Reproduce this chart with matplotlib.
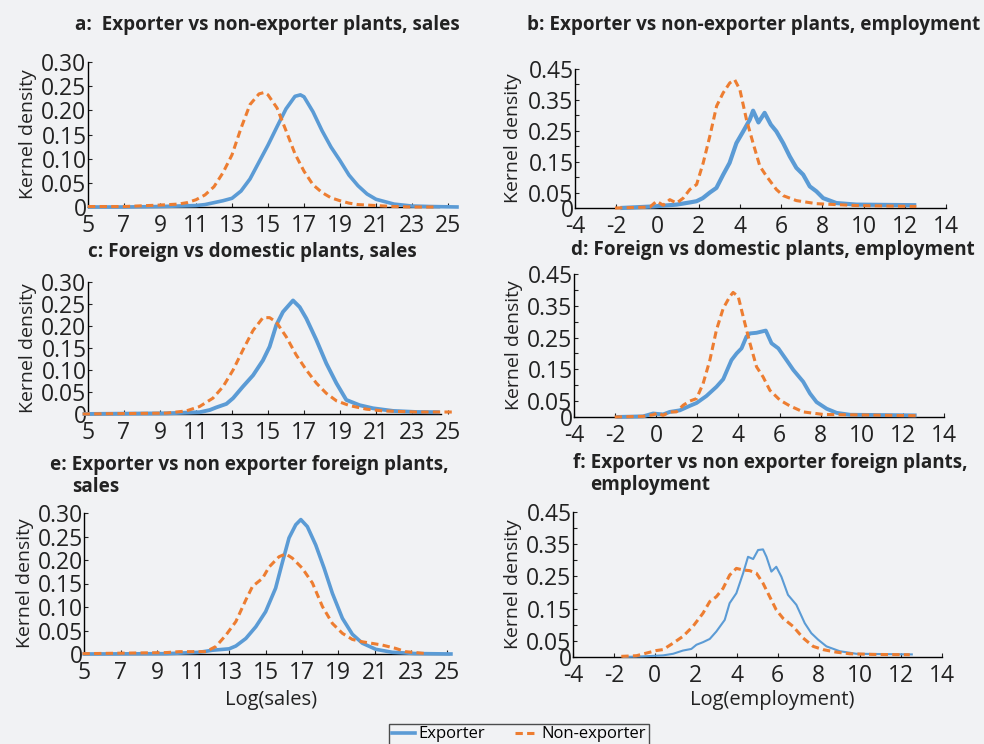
import matplotlib
matplotlib.use("Agg")
import matplotlib.pyplot as plt

plt.rcParams["font.family"] = ["Open Sans", "DejaVu Sans"]

BG = "#f1f2f4"
BLUE = "#5b9bd5"
ORANGE = "#ed7d31"
TXT = "#222222"

# ---- data ----
# a: exporter vs non-exporter, sales
a_exp_x = [5, 7, 9, 10, 11, 11.5, 12, 12.5, 13, 13.5, 14, 14.5, 15, 15.5, 16, 16.5,
           16.8, 17, 17.5, 18, 18.5, 19, 19.5, 20, 20.5, 21, 22, 23, 24, 25.6]
a_exp_y = [0, 0, 0.001, 0.002, 0.003, 0.005, 0.009, 0.013, 0.018, 0.033, 0.058, 0.093,
           0.128, 0.166, 0.203, 0.229, 0.232, 0.228, 0.197, 0.158, 0.124, 0.096, 0.066,
           0.044, 0.027, 0.016, 0.006, 0.002, 0.001, 0]
a_non_x = [5, 7, 9, 10, 10.5, 11, 11.5, 12, 12.5, 13, 13.5, 14, 14.5, 14.8, 15, 15.5,
           16, 16.5, 17, 17.5, 18, 18.5, 19, 19.5, 20, 21, 22, 23, 24.2]
a_non_y = [0.001, 0.001, 0.004, 0.006, 0.009, 0.015, 0.025, 0.042, 0.071, 0.108, 0.163,
           0.212, 0.234, 0.237, 0.232, 0.205, 0.158, 0.11, 0.074, 0.046, 0.03, 0.019,
           0.013, 0.008, 0.005, 0.003, 0.001, 0.0, 0]

# b: exporter vs non-exporter, employment
b_exp_x = [-1.8, -0.2, 0.93, 1.57, 1.9, 2.2, 2.54, 2.86, 3.19, 3.5, 3.83, 4.16, 4.48,
           4.64, 4.9, 5.2, 5.5, 5.77, 6.1, 6.42, 6.74, 7.07, 7.39, 7.71, 8.04, 8.68,
           9.65, 12.56]
b_exp_y = [0, 0.005, 0.011, 0.018, 0.022, 0.032, 0.05, 0.065, 0.108, 0.146, 0.21, 0.248,
           0.286, 0.315, 0.277, 0.308, 0.27, 0.248, 0.21, 0.167, 0.13, 0.108, 0.07,
           0.054, 0.032, 0.016, 0.011, 0.009]
b_non_x = [-2.06, -0.37, -0.04, 0.28, 0.6, 0.93, 1.25, 1.57, 1.9, 2.22, 2.54, 2.87,
           3.19, 3.51, 3.75, 4.0, 4.32, 4.64, 4.97, 5.29, 5.77, 6.1, 6.74, 7.71, 9.65,
           12.56]
b_non_y = [0, 0.003, 0.022, 0.009, 0.027, 0.016, 0.032, 0.06, 0.076, 0.146, 0.232, 0.33,
           0.373, 0.405, 0.415, 0.383, 0.286, 0.21, 0.135, 0.103, 0.06, 0.04, 0.024,
           0.014, 0.008, 0.005]

# c: foreign vs domestic, sales
c_exp_x = [4.7, 9.35, 11.2, 11.76, 12.13, 12.69, 13.06, 13.6, 14.17, 14.72, 15.09,
           15.46, 15.83, 16.39, 16.76, 17.13, 17.69, 18.24, 18.8, 19.35, 20.09, 20.83,
           21.94, 23.24, 24.54]
c_exp_y = [0, 0.0015, 0.004, 0.009, 0.015, 0.023, 0.036, 0.062, 0.088, 0.122, 0.153,
           0.202, 0.232, 0.258, 0.243, 0.217, 0.168, 0.115, 0.07, 0.032, 0.02, 0.013,
           0.007, 0.0045, 0.004]
c_non_x = [4.7, 9.35, 10.46, 11.2, 11.94, 12.5, 13.06, 13.6, 14.17, 14.72, 15.09, 15.46,
           16.02, 16.57, 17.13, 17.69, 18.24, 18.8, 19.54, 20.46, 21.39, 23.24, 25.37]
c_non_y = [0, 0.002, 0.007, 0.017, 0.036, 0.062, 0.1, 0.145, 0.19, 0.219, 0.219, 0.209,
           0.175, 0.134, 0.1, 0.07, 0.047, 0.03, 0.019, 0.011, 0.007, 0.0045, 0.0045]

# d: foreign vs domestic, employment
d_exp_x = [-1.94, -0.64, -0.15, 0.33, 0.66, 1.15, 1.63, 1.96, 2.44, 2.93, 3.26, 3.66,
           3.91, 4.15, 4.39, 4.56, 4.88, 5.33, 5.61, 5.94, 6.34, 6.67, 7.15, 7.48, 7.8,
           8.29, 8.78, 9.43, 12.67]
d_exp_y = [0, 0.002, 0.011, 0.008, 0.016, 0.021, 0.035, 0.044, 0.066, 0.095, 0.119,
           0.179, 0.2, 0.216, 0.253, 0.263, 0.265, 0.272, 0.232, 0.216, 0.179, 0.148,
           0.111, 0.074, 0.047, 0.026, 0.013, 0.007, 0.005]
d_non_x = [-2.02, -0.64, -0.15, 0.09, 0.33, 0.66, 0.98, 1.31, 1.63, 1.96, 2.28, 2.61,
           2.93, 3.26, 3.58, 3.74, 3.99, 4.23, 4.56, 4.88, 5.2, 5.53, 6.02, 6.5, 7.15,
           8.13, 12.67]
d_non_y = [0, 0.002, 0.007, 0.013, 0.005, 0.016, 0.016, 0.037, 0.05, 0.058, 0.105,
           0.179, 0.274, 0.342, 0.379, 0.392, 0.379, 0.316, 0.232, 0.158, 0.126, 0.084,
           0.053, 0.035, 0.016, 0.008, 0.004]

# e: exporter vs non exporter foreign plants, sales
e_exp_x = [4.9, 9.5, 11.33, 12.06, 12.98, 13.35, 13.9, 14.45, 14.99, 15.54, 15.9,
           16.28, 16.65, 16.93, 17.29, 17.75, 18.21, 18.67, 19.22, 19.77, 20.32, 21.06,
           21.97, 23.25, 25.3]
e_exp_y = [0, 0.0007, 0.0036, 0.008, 0.011, 0.017, 0.033, 0.058, 0.09, 0.14, 0.193,
           0.247, 0.275, 0.286, 0.271, 0.232, 0.183, 0.129, 0.076, 0.042, 0.023, 0.01,
           0.0036, 0.001, 0]
e_non_x = [4.9, 9.5, 10.23, 11.7, 12.25, 12.8, 13.35, 13.9, 14.27, 14.82, 15.18, 15.73,
           16.1, 16.46, 17.0, 17.57, 18.12, 18.67, 19.22, 19.77, 20.32, 21.42, 22.15,
           22.7, 23.8]
e_non_y = [0.0007, 0.003, 0.005, 0.005, 0.016, 0.04, 0.069, 0.115, 0.144, 0.161, 0.185,
           0.207, 0.213, 0.204, 0.183, 0.151, 0.101, 0.065, 0.044, 0.031, 0.026, 0.019,
           0.012, 0.005, 0.001]

# f: exporter vs non exporter foreign plants, employment
f_exp_x = [-1.56, -0.58, 0.4, 0.89, 1.37, 1.78, 2.03, 2.35, 2.68, 3.0, 3.41, 3.65,
           3.98, 4.31, 4.55, 4.8, 5.04, 5.28, 5.45, 5.69, 5.93, 6.18, 6.5, 6.91, 7.32,
           7.64, 7.97, 8.38, 9.03, 9.84, 12.6]
f_exp_y = [0, 0.002, 0.005, 0.01, 0.02, 0.025, 0.038, 0.046, 0.056, 0.079, 0.115, 0.167,
           0.198, 0.26, 0.311, 0.304, 0.332, 0.334, 0.311, 0.265, 0.28, 0.249, 0.193,
           0.162, 0.105, 0.074, 0.054, 0.033, 0.018, 0.01, 0.008]
f_non_x = [-1.64, -0.9, -0.42, 0.07, 0.4, 0.89, 1.37, 1.86, 2.35, 2.68, 3.0, 3.33, 3.65,
           3.98, 4.31, 4.63, 4.96, 5.28, 5.61, 5.93, 6.26, 6.75, 7.24, 7.73, 8.21, 8.86,
           9.52, 10.66, 12.45]
f_non_y = [0.002, 0.004, 0.012, 0.02, 0.023, 0.043, 0.064, 0.095, 0.136, 0.172, 0.187,
           0.213, 0.254, 0.275, 0.27, 0.268, 0.26, 0.229, 0.187, 0.146, 0.12, 0.095,
           0.059, 0.033, 0.023, 0.015, 0.01, 0.008, 0.007]

sales_ticks = [5, 7, 9, 11, 13, 15, 17, 19, 21, 23, 25]
emp_ticks = [-4, -2, 0, 2, 4, 6, 8, 10, 12, 14]
sales_yticks = [0, 0.05, 0.10, 0.15, 0.20, 0.25, 0.30]
sales_ylabels = ["0", "0.05", "0.10", "0.15", "0.20", "0.25", "0.30"]
emp_yticks = [0, 0.05, 0.15, 0.25, 0.35, 0.45]
emp_ylabels = ["0", "0.05", "0.15", "0.25", "0.35", "0.45"]
emp_yminor = [0.10, 0.20, 0.30, 0.40]

W, H = 984, 744
fig = plt.figure(figsize=(W / 100, H / 100), dpi=100, facecolor=BG)


def px_axes(left, right, top, bottom):
    return fig.add_axes([left / W, 1 - bottom / H, (right - left) / W, (bottom - top) / H])


panels = [
    # (box px, xlim, spine end, kind, exp, non, exporter lw, ylabel x px)
    ((88, 460.6, 62, 207), (5, 25.7), 24.5, "sales", (a_exp_x, a_exp_y), (a_non_x, a_non_y), 2.6, 28),
    ((575, 946, 69, 208), (-4, 14), 14, "emp", (b_exp_x, b_exp_y), (b_non_x, b_non_y), 3.0, 513),
    ((88, 460.6, 282, 414), (5, 25.7), 24.6, "sales", (c_exp_x, c_exp_y), (c_non_x, c_non_y), 2.8, 28),
    ((574, 944, 274, 417), (-4, 14), 14, "emp", (d_exp_x, d_exp_y), (d_non_x, d_non_y), 2.8, 514),
    ((84.3, 460, 513, 654), (5, 25.7), 25.1, "sales", (e_exp_x, e_exp_y), (e_non_x, e_non_y), 2.6, 25),
    ((573, 941.5, 512, 657), (-4, 14), 14, "emp", (f_exp_x, f_exp_y), (f_non_x, f_non_y), 1.5, 513),
]

axes = []
for box, xlim, spine_end, kind, exp, non, lw, ylab_x in panels:
    ax = px_axes(*box)
    ax.set_facecolor(BG)
    ax.plot(exp[0], exp[1], color=BLUE, lw=lw, solid_capstyle="butt", clip_on=False, zorder=3)
    ax.plot(non[0], non[1], color=ORANGE, lw=2.2, linestyle=(0, (2.4, 1.4)), clip_on=False, zorder=4)
    ax.set_xlim(*xlim)
    for s in ["top", "right"]:
        ax.spines[s].set_visible(False)
    ax.spines["left"].set_linewidth(1.0)
    ax.spines["bottom"].set_linewidth(1.0)
    ax.spines["bottom"].set_bounds(xlim[0], spine_end)
    if kind == "sales":
        ax.set_ylim(0, 0.30)
        ax.set_xticks(sales_ticks)
        ax.set_xticklabels([str(t) for t in sales_ticks])
        ax.set_yticks(sales_yticks)
        ax.set_yticklabels(sales_ylabels)
    else:
        ax.set_ylim(0, 0.45)
        ax.set_xticks(emp_ticks)
        ax.set_xticklabels([str(t) for t in emp_ticks])
        ax.set_yticks(emp_yticks)
        ax.set_yticklabels(emp_ylabels)
        ax.set_yticks(emp_yminor, minor=True)
    ax.tick_params(axis="both", which="both", direction="in", length=3, width=0.8,
                   labelsize=16.5, colors=TXT, pad=1)
    ax.tick_params(axis="x", pad=5)
    ax.set_ylabel("Kernel density", fontsize=14, color=TXT, va="center")
    bw = box[1] - box[0]
    ax.yaxis.set_label_coords((ylab_x - box[0]) / bw, 0.5)
    axes.append(ax)

axes[4].set_xlabel("Log(sales)", fontsize=14.5, color=TXT, va="center")
axes[4].xaxis.set_label_coords((271 - 84.3) / (460 - 84.3), -(700 - 654) / (654 - 513))
axes[5].set_xlabel("Log(employment)", fontsize=14.5, color=TXT, va="center")
axes[5].xaxis.set_label_coords((772 - 573) / (941.5 - 573), -(700 - 657) / (657 - 512))

tkw = dict(fontsize=13.6, fontweight="bold", color=TXT, va="center")
fig.text(267 / W, 1 - 25 / H, "a:  Exporter vs non-exporter plants, sales", ha="center", **tkw)
fig.text(754 / W, 1 - 25 / H, "b: Exporter vs non-exporter plants, employment", ha="center", **tkw)
fig.text(252 / W, 1 - 252 / H, "c: Foreign vs domestic plants, sales", ha="center", **tkw)
fig.text(773 / W, 1 - 250 / H, "d: Foreign vs domestic plants, employment", ha="center", **tkw)
fig.text(50 / W, 1 - 465 / H, "e: Exporter vs non exporter foreign plants,", ha="left", **tkw)
fig.text(72 / W, 1 - 487 / H, "sales", ha="left", **tkw)
fig.text(573 / W, 1 - 463 / H, "f: Exporter vs non exporter foreign plants,", ha="left", **tkw)
fig.text(590 / W, 1 - 485 / H, "employment", ha="left", **tkw)

h1, = axes[0].plot([], [], color=BLUE, lw=2.6)
h2, = axes[0].plot([], [], color=ORANGE, lw=2.2, linestyle=(0, (2.4, 1.4)))
leg = fig.legend([h1, h2], ["Exporter", "Non-exporter"], loc="upper center",
                 bbox_to_anchor=(519 / W, 1 - 724 / H), ncol=2, fontsize=12,
                 frameon=True, fancybox=False, edgecolor=TXT, facecolor=BG,
                 handlelength=1.4, handletextpad=0.2, columnspacing=1.8,
                 borderpad=0.15, borderaxespad=0)
leg.get_frame().set_linewidth(1.0)

fig.savefig("out.png", dpi=100, facecolor=BG)
